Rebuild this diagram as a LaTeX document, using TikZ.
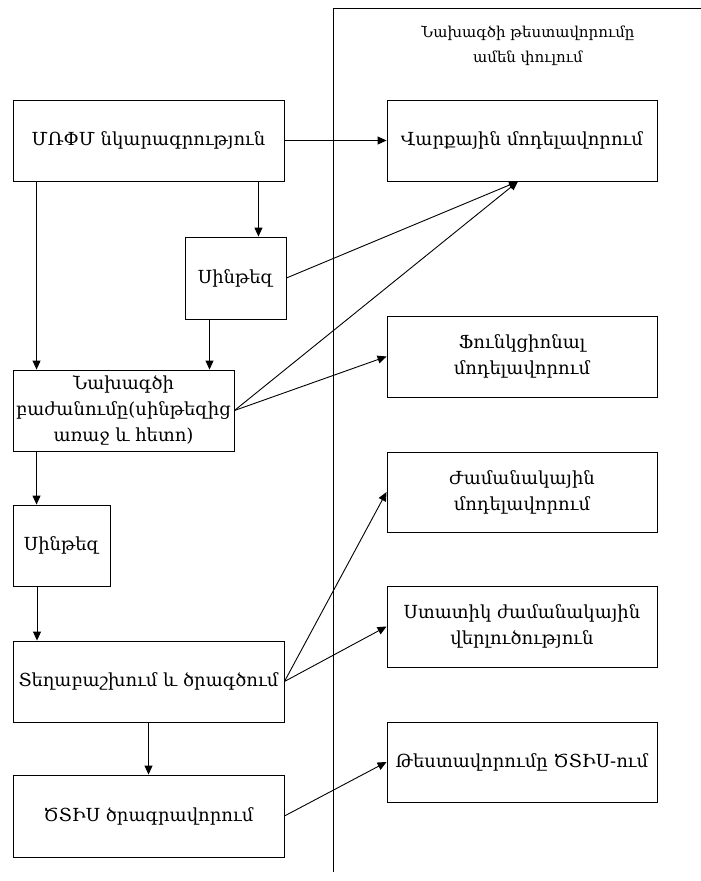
\documentclass[tikz,border=0pt]{standalone}
\usepackage{fontspec}
\setmainfont{DejaVu Serif}
\usetikzlibrary{arrows.meta}
\tikzset{
  x=1pt, y=-1pt,
  box/.style={draw, line width=0.9pt, align=center, inner sep=2pt,
    font=\fontsize{18}{26}\selectfont},
  arr/.style={line width=0.9pt, -{Triangle[length=9pt, width=8pt]}},
  ln/.style={line width=0.9pt}
}
\begin{document}
\begin{tikzpicture}
\useasboundingbox (0,0) rectangle (701,881);

% stage divider and heading
\draw[ln] (333,872) -- (333,8) -- (701,8);
\node[align=center, font=\fontsize{15}{25}\selectfont] (hdr) at (528,46)
  {Նախագծի թեստավորումը\\ամեն փուլում};

% design flow (left column)
\node[box, minimum width=271, minimum height=81] (A)  at (148.5,140.5) {ՄՌՓՄ նկարագրություն};
\node[box, minimum width=101, minimum height=82] (S1) at (235.5,278) {Սինթեզ};
\node[box, minimum width=221, minimum height=81] (P)  at (123.5,410.5)
  {Նախագծի\\բաժանումը(սինթեզից\\առաջ և հետո)};
\node[box, minimum width=97,  minimum height=81] (S2) at (61.5,545.5) {Սինթեզ};
\node[box, minimum width=271, minimum height=81] (R)  at (148.5,681.5) {Տեղաբաշխում և ծրագծում};
\node[box, minimum width=271, minimum height=82] (O)  at (148.5,816) {ԾՏԻՍ ծրագրավորում};

% verification steps (right column)
\node[box, minimum width=270, minimum height=81] (V)  at (522,140.5) {Վարքային մոդելավորում};
\node[box, minimum width=270, minimum height=81] (F)  at (522,356.5) {Ֆունկցիոնալ\\մոդելավորում};
\node[box, minimum width=270, minimum height=80] (T)  at (522,492) {Ժամանակային\\մոդելավորում};
\node[box, minimum width=270, minimum height=81] (St) at (522,626.5) {Ստատիկ ժամանակային\\վերլուծություն};
\node[box, minimum width=270, minimum height=80] (Th) at (522,762) {Թեստավորումը ԾՏԻՍ-ում};

% flow connectors
\coordinate (a1) at ([xshift=24]A.south west);
\coordinate (a2) at ([xshift=-26]A.south east);
\coordinate (s1) at ([xshift=-26]S1.south);
\coordinate (p1) at ([xshift=24]P.south west);
\coordinate (s2) at ([xshift=-24.5]S2.south);
\coordinate (vb) at ([xshift=-4]V.south);

\draw[arr] (A) -- (V);
\draw[arr] (a1) -- (a1 |- P.north);
\draw[arr] (a2) -- (a2 |- S1.north);
\draw[arr] (s1) -- (s1 |- P.north);
\draw[arr] (S1.east) -- (vb);
\draw[arr] (P.east) -- (vb);
\draw[arr] (P.east) -- (F.west);
\draw[arr] (p1) -- (p1 |- S2.north);
\draw[arr] (s2) -- (s2 |- R.north);
\draw[arr] (R.east) -- (T.west);
\draw[arr] (R.east) -- (St.west);
\draw[arr] (R) -- (O);
\draw[arr] (O.east) -- (Th.west);
\end{tikzpicture}
\end{document}
